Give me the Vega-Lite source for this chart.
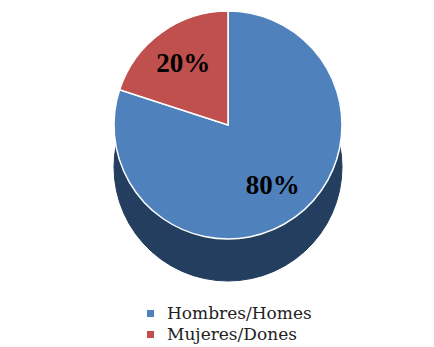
{
  "$schema": "https://vega.github.io/schema/vega-lite/v6.json",
  "width": 424,
  "height": 240,
  "padding": {"left": 16, "right": 0, "top": 5, "bottom": 5},
  "background": "white",
  "data": {"values": [
    {"grupo": "Hombres/Homes", "valor": 80, "orden": 1, "etiqueta": "80%"},
    {"grupo": "Mujeres/Dones", "valor": 20, "orden": 2, "etiqueta": "20%"}
  ]},
  "encoding": {
    "theta": {"field": "valor", "type": "quantitative", "stack": true},
    "order": {"field": "orden", "type": "quantitative"}
  },
  "layer": [
    {
      "mark": {"type": "arc", "radius": 114, "yOffset": 42, "color": "#243e5f", "stroke": "#243e5f", "strokeWidth": 1}
    },
    {
      "mark": {"type": "arc", "radius": 114, "stroke": "white", "strokeWidth": 1.5},
      "encoding": {
        "color": {
          "field": "grupo", "type": "nominal",
          "scale": {"domain": ["Hombres/Homes", "Mujeres/Dones"], "range": ["#4f81bd", "#c0504d"]},
          "legend": {
            "title": null, "orient": "none", "legendX": 126, "legendY": 300, "direction": "vertical",
            "symbolType": "square", "symbolSize": 50, "symbolStrokeWidth": 0,
            "labelFont": "DejaVu Serif", "labelFontSize": 17, "labelColor": "#222222",
            "rowPadding": 3, "labelOffset": 8
          }
        }
      }
    },
    {
      "mark": {"type": "text", "radius": 76, "font": "Liberation Serif", "fontSize": 27, "fontWeight": "bold", "color": "black"},
      "encoding": {"text": {"field": "etiqueta", "type": "nominal"}}
    }
  ],
  "view": {"stroke": null}
}
